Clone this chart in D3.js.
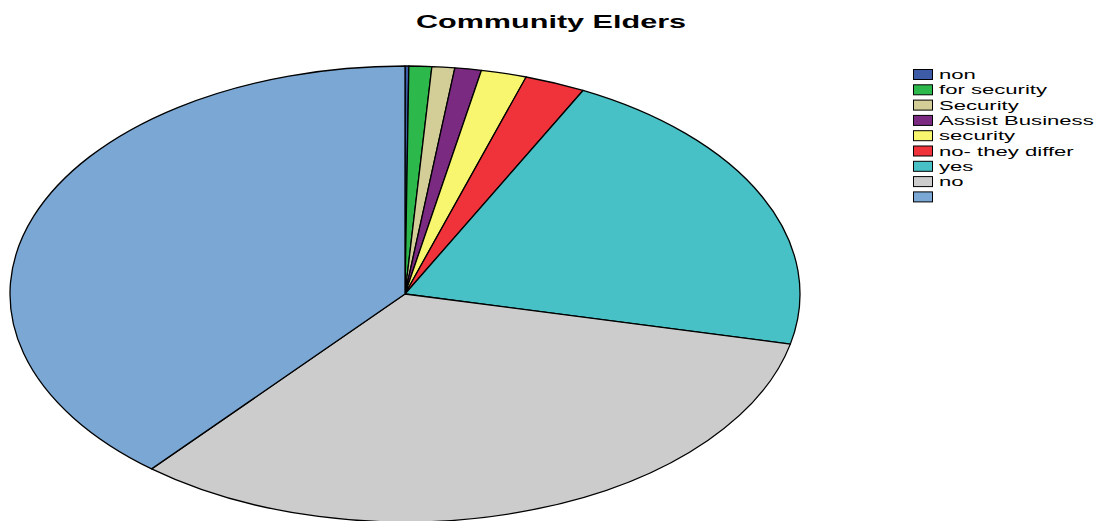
<!DOCTYPE html>
<html>
<head>
<meta charset="utf-8">
<script src="https://cdn.jsdelivr.net/npm/d3@7"></script>
<style>
  html, body { margin: 0; padding: 0; background: #fff; }
  svg { display: block; }
  text { font-family: "Liberation Sans", Arial, sans-serif; fill: #000; }
</style>
</head>
<body>
<svg id="chart" width="1100" height="521"></svg>
<script>
// Responses of community elders, by answer
const categories = ["non", "for security", "Security", "Assist Business", "security", "no- they differ", "yes", "no", ""];
const counts     = [1, 6, 6, 7, 12, 16, 136, 210, 251];
const colors     = ["#3E5BA8", "#2DB84B", "#D3CD98", "#7B2A82", "#F8F66F", "#F0333B", "#48C1C6", "#CCCCCC", "#7BA7D4"];
const title = "Community Elders";

const svg = d3.select("#chart");
const W = 1100;

// Pie is drawn on a unit circle then stretched into an ellipse
const cx = 405, cy = 294, rx = 395, ry = 228;
const R = 100;

const pie = d3.pie().sort(null).value(d => d.value);
const arc = d3.arc().innerRadius(0).outerRadius(R);
const data = categories.map((c, i) => ({ name: c, value: counts[i], color: colors[i] }));

const g = svg.append("g")
  .attr("transform", `translate(${cx},${cy}) scale(${rx / R},${ry / R})`);

g.selectAll("path")
  .data(pie(data))
  .join("path")
  .attr("d", arc)
  .attr("fill", d => d.data.color)
  .attr("stroke", "#000")
  .attr("stroke-width", 1.3)
  .attr("stroke-linejoin", "round")
  .attr("vector-effect", "non-scaling-stroke");

// Title (wide lettering)
const stretch = 1.7;
svg.append("text")
  .attr("transform", `translate(551,28) scale(${stretch},1)`)
  .attr("text-anchor", "middle")
  .attr("font-size", 18)
  .attr("font-weight", "bold")
  .text(title);

// Legend
const legend = svg.append("g").attr("transform", "translate(913,69)");
const rowH = 15.3;
const rows = legend.selectAll("g")
  .data(data)
  .join("g")
  .attr("transform", (d, i) => `translate(0,${i * rowH})`);

rows.append("rect")
  .attr("x", 0.5).attr("y", 0.5)
  .attr("width", 19).attr("height", 10)
  .attr("fill", d => d.color)
  .attr("stroke", "#000")
  .attr("stroke-width", 1);

rows.append("text")
  .attr("transform", `translate(26,10) scale(${stretch},1)`)
  .attr("font-size", 13)
  .text(d => d.name);
</script>
</body>
</html>
